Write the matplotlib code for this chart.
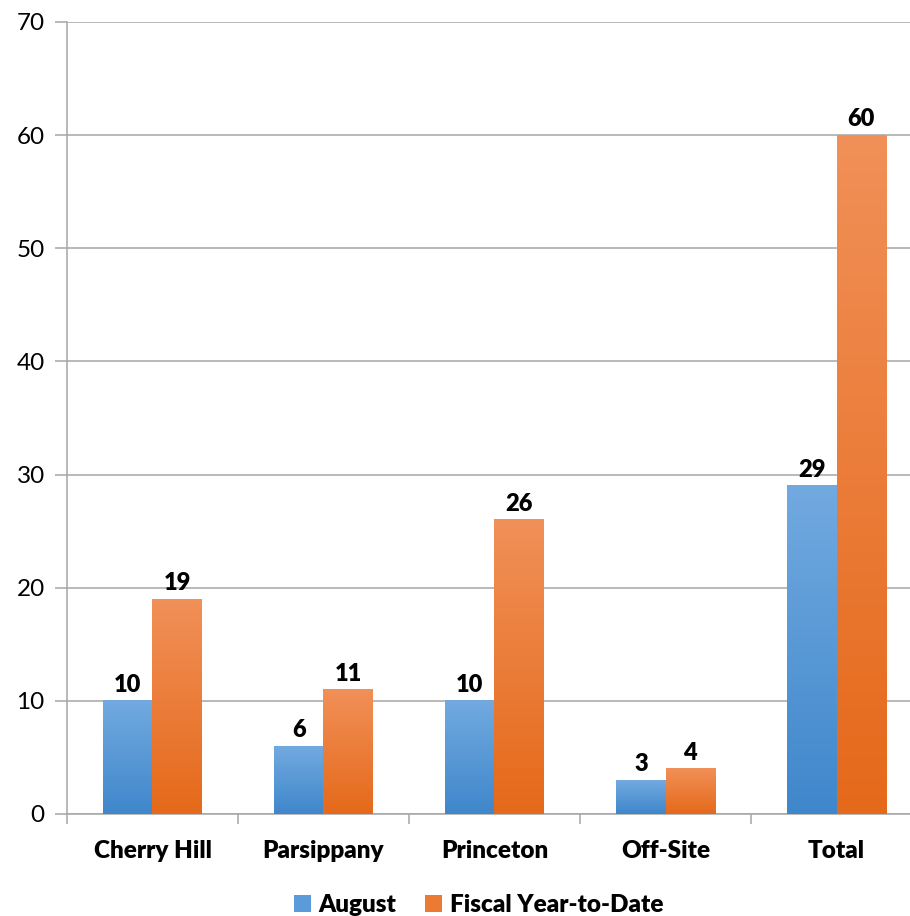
import numpy as np
import matplotlib
matplotlib.use('Agg')
import matplotlib.pyplot as plt
from matplotlib.colors import LinearSegmentedColormap
from matplotlib.patches import Patch

categories = ['Cherry Hill', 'Parsippany', 'Princeton', 'Off-Site', 'Total']
august = [10, 6, 10, 3, 29]
fiscal_ytd = [19, 11, 26, 4, 60]
series_names = ['August', 'Fiscal Year-to-Date']

BLUE_TOP, BLUE_BOT = '#72aae0', '#3f87cb'
ORANGE_TOP, ORANGE_BOT = '#f19058', '#e5691a'
GRID = '#a6a6a6'
LBL_W = 'heavy'

plt.rcParams['font.family'] = ['Lato', 'DejaVu Sans']

fig = plt.figure(figsize=(9.10, 9.16), dpi=100)
ax = fig.add_axes([0.0736, 0.1114, 0.9396, 0.8646])

x = np.arange(len(categories))
bw = 0.287


def gradient_bar(ax, xc, h, top, bot):
    cmap = LinearSegmentedColormap.from_list('g', [bot, top])
    grad = np.linspace(0, 1, 256).reshape(-1, 1)
    ax.imshow(grad, cmap=cmap, aspect='auto', origin='lower',
              extent=(xc - bw / 2, xc + bw / 2, 0, h), zorder=3)


for i in range(len(categories)):
    gradient_bar(ax, x[i] - bw / 2, august[i], BLUE_TOP, BLUE_BOT)
    gradient_bar(ax, x[i] + bw / 2, fiscal_ytd[i], ORANGE_TOP, ORANGE_BOT)
    ax.text(x[i] - bw / 2, august[i] + 1.4, str(august[i]), ha='center', va='center',
            fontsize=17, fontweight=LBL_W)
    ax.text(x[i] + bw / 2, fiscal_ytd[i] + 1.4, str(fiscal_ytd[i]), ha='center', va='center',
            fontsize=17, fontweight=LBL_W)

ax.set_xlim(-0.5, len(categories) - 0.5)
ax.set_ylim(0, 70)
ax.set_yticks(range(0, 71, 10))
ax.yaxis.grid(True, color=GRID, lw=1.1)
ax.set_axisbelow(True)

ax.set_xticks(np.arange(-0.5, len(categories), 1.0))
ax.set_xticklabels([])
ax.set_xticks(x, minor=True)
ax.set_xticklabels(categories, minor=True, fontsize=17.5, fontweight=LBL_W)
ax.tick_params(axis='x', which='major', length=7, color=GRID, width=1.1, direction='out')
ax.tick_params(axis='x', which='minor', length=0, pad=19)
ax.tick_params(axis='y', length=9, color=GRID, width=1.1, labelsize=17.5, pad=7)

for s in ['top', 'right']:
    ax.spines[s].set_visible(False)
ax.spines['left'].set_color(GRID)
ax.spines['bottom'].set_color(GRID)
ax.spines['left'].set_linewidth(1.1)
ax.spines['bottom'].set_linewidth(1.1)

handles = [Patch(facecolor='#5b9bd9', label=series_names[0]),
           Patch(facecolor='#ec7a35', label=series_names[1])]
fig.legend(handles=handles, loc='center', bbox_to_anchor=(0.526, 0.012), ncol=2,
           frameon=False, prop={'size': 17.5, 'weight': LBL_W},
           handlelength=0.7, handleheight=0.7, handletextpad=0.3, columnspacing=1.2)

fig.savefig('out.png', dpi=100)
